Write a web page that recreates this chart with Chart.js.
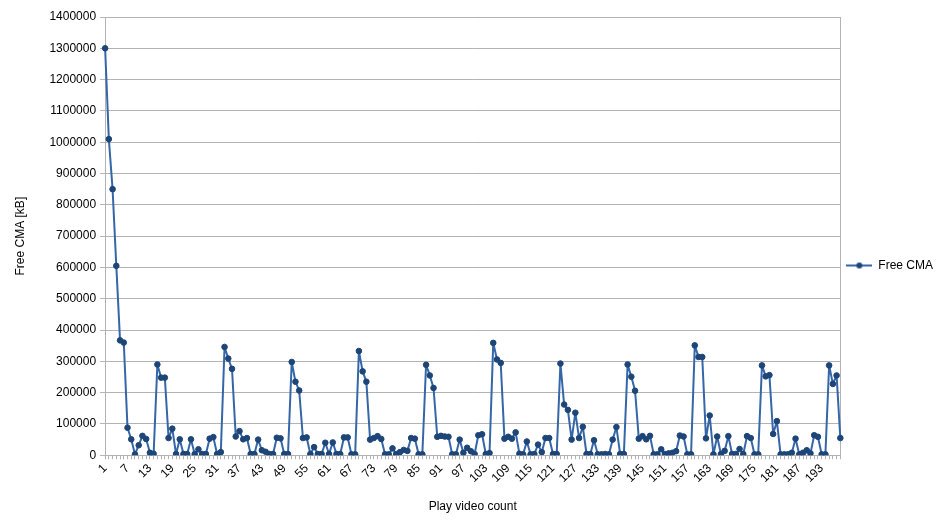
<!DOCTYPE html>
<html>
<head>
  <meta charset="UTF-8">
  <title>Free CMA</title>
  <script src="https://cdn.jsdelivr.net/npm/chart.js"></script>
  <style>
    body {
      margin: 0;
      background: #fff;
    }
  </style>
</head>
<body>
  <canvas id="cmaChart" width="944" height="530"></canvas>

  <script>
    // Free CMA after each video playback (kB)
    const freeCma = [
      1300000, 1010000, 850000, 605000, 367000, 360000, 88000, 51000, 3000, 32000,
      62000, 52000, 8000, 5000, 290000, 248000, 248000, 55000, 85000, 4000,
      51000, 4000, 4000, 51000, 4000, 19000, 4000, 4000, 53000, 58000,
      4000, 10000, 346000, 309000, 276000, 60000, 77000, 51000, 55000, 4000,
      4000, 50000, 16000, 11000, 4000, 4000, 56000, 54000, 4000, 4000,
      298000, 235000, 207000, 55000, 57000, 4000, 26000, 4000, 4000, 40000,
      4000, 41000, 4000, 4000, 57000, 57000, 3000, 3000, 333000, 268000,
      235000, 50000, 55000, 61000, 52000, 3000, 3000, 22000, 4000, 10000,
      17000, 14000, 55000, 53000, 3000, 3000, 289000, 255000, 215000, 59000,
      62000, 60000, 59000, 3000, 3000, 50000, 8000, 24000, 13000, 4000,
      64000, 67000, 4000, 7000, 359000, 306000, 295000, 53000, 59000, 53000,
      73000, 5000, 3000, 44000, 3000, 4000, 34000, 10000, 55000, 55000,
      4000, 4000, 293000, 162000, 145000, 50000, 136000, 55000, 91000, 4000,
      4000, 48000, 3000, 3000, 4000, 3000, 50000, 90000, 4000, 4000,
      290000, 251000, 206000, 53000, 61000, 51000, 62000, 3000, 3000, 19000,
      4000, 6000, 8000, 13000, 63000, 60000, 3000, 3000, 351000, 314000,
      314000, 54000, 127000, 3000, 60000, 4000, 14000, 61000, 4000, 4000,
      20000, 4000, 61000, 55000, 3000, 3000, 287000, 252000, 256000, 68000,
      109000, 3000, 3000, 3000, 8000, 53000, 3000, 8000, 16000, 6000,
      64000, 59000, 3000, 3000, 287000, 228000, 255000, 55000
    ];

    // play count 1..N, one label shown every 6th
    const playCount = freeCma.map((v, i) => String(i + 1));
    const labelEvery = 6;

    const yTicks = { min: 0, max: 1400000, step: 100000 };

    const lineColor = '#3566a8';
    const pointColor = '#1d4578';
    const gridColor = '#b3b3b3';

    // legend symbol: short line with a dot
    const legendMark = document.createElement('canvas');
    legendMark.width = 26;
    legendMark.height = 8;
    const lctx = legendMark.getContext('2d');
    lctx.strokeStyle = lineColor;
    lctx.lineWidth = 2;
    lctx.beginPath();
    lctx.moveTo(0, 4);
    lctx.lineTo(26, 4);
    lctx.stroke();
    lctx.fillStyle = pointColor;
    lctx.beginPath();
    lctx.arc(13, 4, 3, 0, Math.PI * 2);
    lctx.fill();

    const font = { family: '"Liberation Sans", Arial, sans-serif', size: 12 };
    const last = playCount.length - 1;

    new Chart(document.getElementById('cmaChart'), {
      type: 'line',
      data: {
        labels: playCount,
        datasets: [{
          label: 'Free CMA',
          data: freeCma,
          borderColor: lineColor,
          borderWidth: 2,
          borderJoinStyle: 'round',
          backgroundColor: pointColor,
          pointBackgroundColor: pointColor,
          pointBorderColor: pointColor,
          pointRadius: 2.8,
          pointBorderWidth: 1,
          tension: 0
        }]
      },
      options: {
        responsive: false,
        animation: false,
        devicePixelRatio: 1,
        layout: {
          padding: { top: 17, right: 1, bottom: 16, left: 8 }
        },
        plugins: {
          tooltip: { enabled: false },
          legend: {
            position: 'right',
            labels: {
              usePointStyle: true,
              pointStyleWidth: 26,
              color: '#000',
              font: font,
              padding: 6,
              generateLabels: chart => [{
                text: 'Free CMA',
                pointStyle: legendMark,
                fillStyle: pointColor,
                strokeStyle: lineColor,
                lineWidth: 0,
                datasetIndex: 0
              }]
            }
          }
        },
        scales: {
          x: {
            type: 'category',
            offset: false,
            grid: {
              drawOnChartArea: true,
              color: ctx => ctx.index === last ? gridColor : 'rgba(0,0,0,0)',
              tickColor: gridColor,
              tickLength: 4
            },
            border: { color: gridColor },
            ticks: {
              autoSkip: false,
              maxRotation: 45,
              minRotation: 45,
              padding: 2,
              color: '#000',
              font: font,
              callback: (v, i) => i % labelEvery === 0 ? playCount[i] : ''
            },
            title: {
              display: true,
              text: 'Play video count',
              color: '#000',
              font: font,
              padding: { top: 12, bottom: 0 }
            }
          },
          y: {
            min: yTicks.min,
            max: yTicks.max,
            grid: {
              color: gridColor,
              tickColor: gridColor,
              tickLength: 5
            },
            border: { color: gridColor },
            ticks: {
              stepSize: yTicks.step,
              padding: 4,
              color: '#000',
              font: font,
              callback: v => String(v)
            },
            title: {
              display: true,
              text: 'Free CMA [kB]',
              color: '#000',
              font: font,
              padding: { top: 5, bottom: 18 }
            }
          }
        }
      }
    });
  </script>
</body>
</html>
